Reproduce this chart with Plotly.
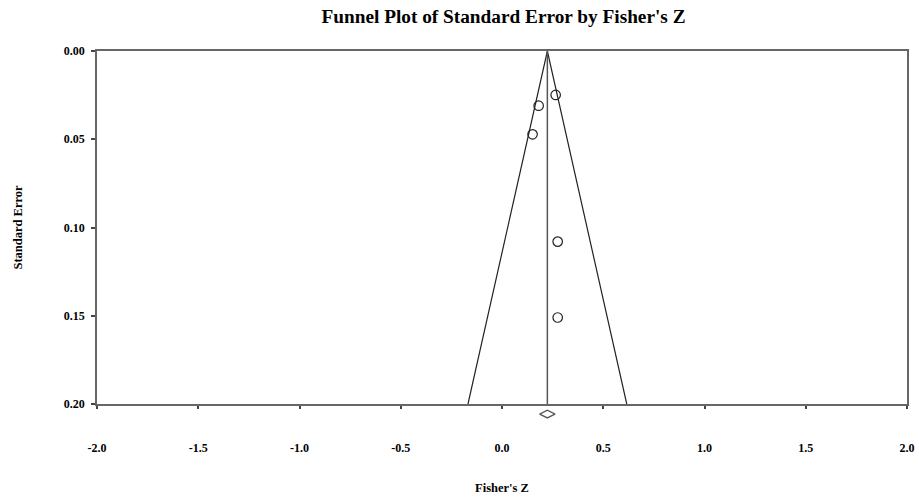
import plotly.graph_objects as go

# Data
fisher_z = [0.265, 0.181, 0.151, 0.275, 0.275]
std_err = [0.0249, 0.031, 0.0472, 0.108, 0.151]
pooled_z = 0.224
se_max = 0.20
diamond_se = 0.2057
x_ticks = [-2.0, -1.5, -1.0, -0.5, 0.0, 0.5, 1.0, 1.5, 2.0]
y_ticks = [0.00, 0.05, 0.10, 0.15, 0.20]

font_family = "Liberation Serif"

# layout geometry
W, H = 919, 499
top, main_bottom, full_bottom = 51, 404, 430
d = (full_bottom - main_bottom) / (full_bottom - top)
se_per_px = se_max / (main_bottom - top)
y2_max = se_max + (full_bottom - main_bottom) * se_per_px

fig = go.Figure()

# Funnel
left = pooled_z - 1.96 * se_max
right = pooled_z + 1.96 * se_max
fig.add_trace(go.Scatter(x=[left, pooled_z, right], y=[se_max, 0, se_max],
                         mode="lines", line=dict(color="#222222", width=1.2),
                         hoverinfo="skip", showlegend=False))
# Center line
fig.add_trace(go.Scatter(x=[pooled_z, pooled_z], y=[0, se_max],
                         mode="lines", line=dict(color="#555555", width=1.5),
                         hoverinfo="skip", showlegend=False))
# Studies
fig.add_trace(go.Scatter(x=fisher_z, y=std_err, mode="markers",
                         marker=dict(symbol="circle-open", size=9.5,
                                     line=dict(color="#222222", width=1.2),
                                     color="#222222"),
                         showlegend=False))
# Pooled diamond (below the plot box)
fig.add_trace(go.Scatter(x=[pooled_z], y=[diamond_se], mode="markers",
                         xaxis="x", yaxis="y2",
                         marker=dict(symbol="diamond-wide-open", size=11,
                                     color="#555555",
                                     line=dict(color="#555555", width=1.3)),
                         cliponaxis=False, hoverinfo="skip", showlegend=False))

fig.update_layout(
    width=W, height=H,
    margin=dict(l=97, r=12, t=top, b=H - full_bottom),
    plot_bgcolor="white", paper_bgcolor="white",
    title=dict(text="<b>Funnel Plot of Standard Error by Fisher's Z</b>",
               x=503.5 / W, xanchor="center", y=1 - 16 / H, yanchor="middle",
               font=dict(family=font_family, size=19.3, color="black")),
    font=dict(family=font_family, color="black"),
    xaxis=dict(range=[-2.0, 2.0], tickvals=x_ticks, anchor="y",
               ticktext=[f"<b>{v:.1f}</b>" for v in x_ticks],
               tickfont=dict(size=12, family=font_family),
               ticks="outside", ticklen=3, tickcolor="#444444", tickwidth=1.5,
               showline=True, linecolor="#666666", linewidth=1.5, mirror=True,
               showgrid=False, zeroline=False, ticklabelstandoff=29,
               automargin=False,
               title=dict(text="<b>Fisher's Z</b>", font=dict(size=12.5, family=font_family),
                          standoff=29)),
    yaxis=dict(range=[0.20, 0.0], tickvals=y_ticks, domain=[d, 1],
               ticktext=[f"<b>{v:.2f}</b>" for v in y_ticks],
               tickfont=dict(size=12, family=font_family),
               ticks="outside", ticklen=4, tickcolor="#444444", tickwidth=1.5,
               showline=True, linecolor="#666666", linewidth=1.5, mirror=True,
               showgrid=False, zeroline=False, ticklabelstandoff=4,
               automargin=False,
               title=dict(text="<b>Standard Error</b>", font=dict(size=12.5, family=font_family),
                          standoff=38)),
    yaxis2=dict(range=[y2_max, se_max], domain=[0, d], anchor="x",
                visible=False, showgrid=False, zeroline=False),
)

fig.write_html("out.html", config={"displayModeBar": False},
               post_script="document.body.style.margin='0';document.body.style.overflow='hidden';")
